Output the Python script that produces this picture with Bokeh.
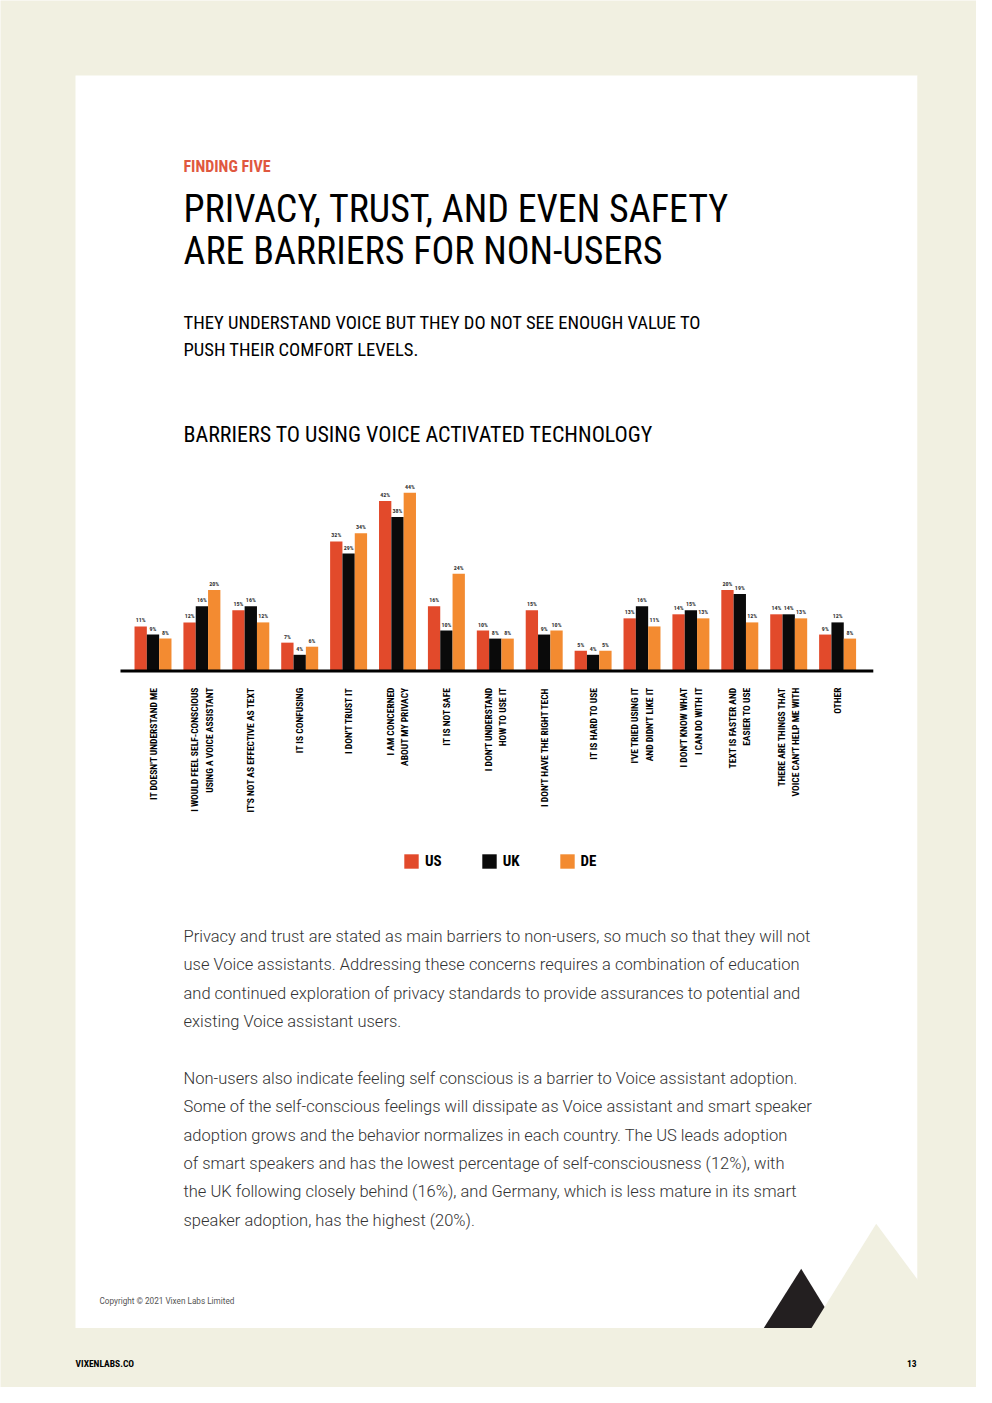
import numpy as np
import pandas as pd
from bokeh.plotting import figure
from bokeh.models import Range1d, ColumnDataSource, Legend, LegendItem
from bokeh.core.properties import value
from bokeh.transform import dodge
from bokeh.embed import file_html
from bokeh.resources import INLINE

# ---------------- data ----------------
categories = [
    "IT DOESN'T UNDERSTAND ME",
    "I WOULD FEEL SELF-CONSCIOUS\nUSING A VOICE ASSISTANT",
    "IT'S NOT AS EFFECTIVE AS TEXT",
    "IT IS CONFUSING",
    "I DON'T TRUST IT",
    "I AM CONCERNED\nABOUT MY PRIVACY",
    "IT IS NOT SAFE",
    "I DON'T UNDERSTAND\nHOW TO USE IT",
    "I DON'T HAVE THE RIGHT TECH",
    "IT IS HARD TO USE",
    "I'VE TRIED USING IT\nAND DIDN'T LIKE IT",
    "I DON'T KNOW WHAT\nI CAN DO WITH IT",
    "TEXT IS FASTER AND\nEASIER TO USE",
    "THERE ARE THINGS THAT\nVOICE CAN'T HELP ME WITH",
    "OTHER",
]
us = [11, 12, 15, 7, 32, 42, 16, 10, 15, 5, 13, 14, 20, 14, 9]
uk = [9, 16, 16, 4, 29, 38, 10, 8, 9, 4, 16, 15, 19, 14, 12]
de = [8, 20, 12, 6, 34, 44, 24, 8, 10, 5, 11, 13, 12, 13, 8]
series = ["US", "UK", "DE"]
series_cols = ["us", "uk", "de"]
colors = ["#E24A2B", "#0A0A0A", "#F38B31"]

kicker = "FINDING FIVE"
title_lines = ["PRIVACY, TRUST, AND EVEN SAFETY", "ARE BARRIERS FOR NON-USERS"]
subtitle_lines = ["THEY UNDERSTAND VOICE BUT THEY DO NOT SEE ENOUGH VALUE TO",
                  "PUSH THEIR COMFORT LEVELS."]
chart_title = "BARRIERS TO USING VOICE ACTIVATED TECHNOLOGY"
para1 = [
    "Privacy and trust are stated as main barriers to non-users, so much so that they will not",
    "use Voice assistants. Addressing these concerns requires a combination of education",
    "and continued exploration of privacy standards to provide assurances to potential and",
    "existing Voice assistant users.",
]
para2 = [
    "Non-users also indicate feeling self conscious is a barrier to Voice assistant adoption.",
    "Some of the self-conscious feelings will dissipate as Voice assistant and smart speaker",
    "adoption grows and the behavior normalizes in each country. The US leads adoption",
    "of smart speakers and has the lowest percentage of self-consciousness (12%), with",
    "the UK following closely behind (16%), and Germany, which is less mature in its smart",
    "speaker adoption, has the highest (20%).",
]
copyright_txt = "Copyright \u00a9 2021 Vixen Labs Limited"
footer_left = "VIXENLABS.CO"
footer_right = "13"

# ---------------- styles ----------------
BG = "#F1F0E1"
NARROW = "Roboto Condensed, DejaVu Sans Condensed, Liberation Sans Narrow, sans-serif"
BODY = "Roboto Light"
ACCENT = "#E0583F"

W, H = 976, 1387
p = figure(width=W, height=H, x_range=Range1d(0, W), y_range=Range1d(H, 0),
           output_backend="svg", toolbar_location=None, min_border=0,
           x_axis_location=None, y_axis_location=None)
p.grid.visible = False
p.outline_line_color = None
p.background_fill_color = BG
p.border_fill_color = BG

# white card
p.quad(left=75, right=917, top=75, bottom=1327.5, fill_color="white", line_color=None)

# chart scales (page pixel layout of the chart area)
GX0, GDX = 152.5, 48.9     # page x of first group centre, group pitch
BASE, PXV = 670.5, 4.05    # page y of zero line, pixels per percent
p.extra_x_ranges = {"cat": Range1d((0 - GX0) / GDX, (W - GX0) / GDX)}
p.extra_y_ranges = {"val": Range1d((BASE - H) / PXV, (BASE - 0) / PXV)}

idx = np.arange(len(categories))
df = pd.DataFrame(dict(x=idx, us=us, uk=uk, de=de, label=categories))
for c in series_cols:
    df[c + "_lbl"] = [f"{v}%" for v in df[c]]
src = ColumnDataSource(df)

BW = 0.252
offsets = [-BW, 0.0, BW]
renderers = []
for name, col, off, colr in zip(series, series_cols, offsets, colors):
    r = p.vbar(x=dodge("x", off), top=col, bottom=0, width=BW, source=src,
               fill_color=colr, line_color=None,
               x_range_name="cat", y_range_name="val")
    renderers.append(r)
    p.text(x=dodge("x", off), y=col, text=col + "_lbl", source=src,
           x_range_name="cat", y_range_name="val", y_offset=-3,
           text_align="center", text_baseline="bottom",
           text_font=value(NARROW), text_font_style="bold",
           text_font_size="6px", text_color="#333333")

# zero line
p.segment(x0=[-0.665], x1=[14.73], y0=[0], y1=[0], line_color="black", line_width=3,
          x_range_name="cat", y_range_name="val")

# category labels (rotated)
p.text(x="x", y=687, text="label", source=src, x_range_name="cat",
       angle=np.pi / 2, text_align="right", text_baseline="middle",
       text_font=value(NARROW), text_font_style="bold", text_font_size="9.5px",
       text_line_height=1.3, text_color="black")

# legend
legend = Legend(items=[LegendItem(label=s, renderers=[r]) for s, r in zip(series, renderers)],
                location=(402, H - 870), orientation="horizontal",
                glyph_width=18, glyph_height=18, label_standoff=5, spacing=38,
                padding=0, margin=0, label_width=14, label_height=18,
                background_fill_alpha=0, border_line_color=None,
                label_text_font=NARROW, label_text_font_style="bold",
                label_text_font_size="15px", label_text_color="black")
p.add_layout(legend)


def put(x, y, s, size, font=NARROW, color="black", style="normal", align="left"):
    p.text(x=[x], y=[y], text=[s], text_font=value(font), text_font_size=size,
           text_color=color, text_font_style=style, text_align=align,
           text_baseline="alphabetic")


put(183, 166, kicker, "16px", color=ACCENT, style="bold")
for i, t in enumerate(title_lines):
    put(183, 208 + 42 * i, t, "38px")
for i, t in enumerate(subtitle_lines):
    put(183, 322 + 27 * i, t, "18.6px")
put(183, 433.5, chart_title, "22px")

LH = 28.3
for i, t in enumerate(para1):
    put(183, 936 + LH * i, t, "16.5px", font=BODY, color="#333333")
for i, t in enumerate(para2):
    put(183, 1078 + LH * i, t, "16.5px", font=BODY, color="#333333")

put(99, 1300, copyright_txt, "8.2px", font="Roboto", color="#555555")
put(75, 1363, footer_left, "9.5px", style="bold")
put(916, 1363, footer_right, "9.5px", style="bold", align="right")

# decorative mountains
p.patch(x=[763.3, 800.7, 837, 763.3], y=[1327.5, 1268.3, 1327.5, 1327.5],
        fill_color="#231F20", line_color=None)
p.patch(x=[811, 875.7, 940, 940, 811], y=[1327.5, 1223.3, 1310, 1327.5, 1327.5],
        fill_color=BG, line_color=None)
p.quad(left=917, right=W, top=75, bottom=H, fill_color=BG, line_color=None)

open("out.html", "w").write(file_html(p, INLINE))
